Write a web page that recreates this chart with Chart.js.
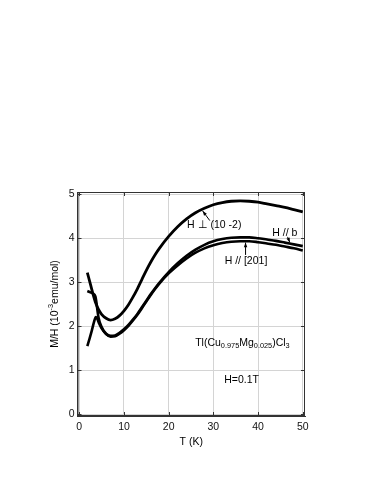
<!DOCTYPE html>
<html>
<head>
<meta charset="utf-8">
<script src="https://cdn.jsdelivr.net/npm/chart.js@4"></script>
<style>
  html, body { margin: 0; padding: 0; background: #fff; }
  #grafica { display: block; }
</style>
</head>
<body>
<canvas id="grafica" width="382" height="494"></canvas>
<script>
// datos (T en K, M/H en 10^-3 emu/mol)
const tempsPerp = [1.8, 2.5, 3.1, 3.7, 4.3, 5, 6, 7, 8, 9, 10, 11, 12, 13, 14, 15, 16, 17, 18, 20, 22, 24, 26, 28, 30, 32, 34, 36, 38, 40, 42, 44, 46, 48, 50];
const mhPerp = [3.22, 2.95, 2.72, 2.52, 2.38, 2.27, 2.18, 2.14, 2.17, 2.24, 2.35, 2.49, 2.66, 2.85, 3.06, 3.27, 3.46, 3.63, 3.78, 4.04, 4.26, 4.44, 4.58, 4.68, 4.76, 4.81, 4.84, 4.85, 4.84, 4.82, 4.78, 4.74, 4.70, 4.65, 4.60];

const tempsB = [1.8, 2.5, 3.1, 3.6, 4.3, 5, 6, 7, 8, 9, 10, 11, 12, 13, 14, 15, 16, 17, 18, 20, 22, 24, 26, 28, 30, 32, 34, 36, 38, 40, 42, 44, 46, 48, 50];
const mhB = [2.80, 2.77, 2.74, 2.68, 2.20, 1.98, 1.83, 1.78, 1.79, 1.85, 1.93, 2.03, 2.15, 2.28, 2.43, 2.58, 2.73, 2.87, 3.00, 3.23, 3.43, 3.60, 3.74, 3.85, 3.93, 3.98, 4.01, 4.02, 4.02, 4.00, 3.97, 3.94, 3.90, 3.86, 3.82];

const temps201 = [1.8, 2.3, 2.8, 3.3, 3.7, 4.0, 4.5, 5, 6, 7, 8, 9, 10, 11, 12, 13, 14, 15, 16, 17, 18, 20, 22, 24, 26, 28, 30, 32, 34, 36, 38, 40, 42, 44, 46, 48, 50];
const mh201 = [1.55, 1.72, 1.90, 2.10, 2.21, 2.17, 2.05, 1.95, 1.82, 1.76, 1.77, 1.83, 1.91, 2.01, 2.13, 2.26, 2.41, 2.56, 2.71, 2.85, 2.98, 3.20, 3.38, 3.54, 3.67, 3.77, 3.84, 3.89, 3.92, 3.93, 3.93, 3.91, 3.88, 3.85, 3.81, 3.77, 3.72];

const ticksT = [0, 10, 20, 30, 40, 50];
const ticksMH = [0, 1, 2, 3, 4, 5];

const FUENTE = '"Liberation Sans", Arial, sans-serif';

// etiquetas dentro de la grafica (posicion en unidades de datos)
const etiquetas = [
  { x: 30.2, y: 4.30, partes: [['H \u22A5 (10 -2)', 0]] },
  { x: 46.0, y: 4.12, partes: [['H // b', 0]] },
  { x: 37.3, y: 3.48, partes: [['H // [201]', 0]] },
  { x: 36.5, y: 1.62, partes: [['Tl(Cu', 0], ['0.975', 1], ['Mg', 0], ['0.025', 1], [')Cl', 0], ['3', 1]] },
  { x: 36.3, y: 0.78, partes: [['H=0.1T', 0]] }
];
const flechas = [
  { de: [29.2, 4.40], a: [27.6, 4.62] },
  { de: [46.6, 4.03], a: [47.1, 3.90] },
  { de: [37.2, 3.62], a: [37.2, 3.90] }
];

function serie(xs, ys) {
  return xs.map((t, i) => ({ x: t, y: ys[i] }));
}

function anchoPartes(ctx, partes, tam) {
  let w = 0;
  partes.forEach(([txt, tipo]) => {
    ctx.font = (tipo ? tam * 0.7 : tam) + 'px ' + FUENTE;
    w += ctx.measureText(txt).width;
  });
  return w;
}

function dibujarPartes(ctx, partes, x, y, tam) {
  let cx = x - anchoPartes(ctx, partes, tam) / 2;
  partes.forEach(([txt, tipo]) => {
    ctx.font = (tipo ? tam * 0.7 : tam) + 'px ' + FUENTE;
    let dy = 0;
    if (tipo === 1) dy = tam * 0.3;
    if (tipo === 2) dy = -tam * 0.4;
    ctx.fillText(txt, cx, y + dy);
    cx += ctx.measureText(txt).width;
  });
}

const extras = {
  id: 'extras',
  afterDraw(chart) {
    const ctx = chart.ctx;
    const a = chart.chartArea;
    const sx = chart.scales.x, sy = chart.scales.y;
    ctx.save();
    // marco
    ctx.strokeStyle = '#333';
    ctx.lineWidth = 1;
    ctx.strokeRect(a.left + 0.5, a.top + 0.5, a.right - a.left - 1, a.bottom - a.top - 1);
    // marcas hacia dentro
    ctx.beginPath();
    ticksT.forEach(v => {
      const px = Math.round(sx.getPixelForValue(v)) + 0.5;
      ctx.moveTo(px, a.bottom); ctx.lineTo(px, a.bottom - 4);
      ctx.moveTo(px, a.top); ctx.lineTo(px, a.top + 4);
    });
    ticksMH.forEach(v => {
      const py = Math.round(sy.getPixelForValue(v)) + 0.5;
      ctx.moveTo(a.left, py); ctx.lineTo(a.left + 4, py);
      ctx.moveTo(a.right, py); ctx.lineTo(a.right - 4, py);
    });
    ctx.stroke();

    // textos
    ctx.fillStyle = '#000';
    ctx.textBaseline = 'middle';
    ctx.textAlign = 'left';
    etiquetas.forEach(e => {
      dibujarPartes(ctx, e.partes, sx.getPixelForValue(e.x), sy.getPixelForValue(e.y), 10.5);
    });

    // flechas
    ctx.strokeStyle = '#000';
    ctx.fillStyle = '#000';
    flechas.forEach(f => {
      const x1 = sx.getPixelForValue(f.de[0]), y1 = sy.getPixelForValue(f.de[1]);
      const x2 = sx.getPixelForValue(f.a[0]), y2 = sy.getPixelForValue(f.a[1]);
      const ang = Math.atan2(y2 - y1, x2 - x1);
      ctx.beginPath();
      ctx.moveTo(x1, y1); ctx.lineTo(x2, y2);
      ctx.stroke();
      ctx.beginPath();
      ctx.moveTo(x2, y2);
      ctx.lineTo(x2 - 5 * Math.cos(ang - 0.35), y2 - 5 * Math.sin(ang - 0.35));
      ctx.lineTo(x2 - 5 * Math.cos(ang + 0.35), y2 - 5 * Math.sin(ang + 0.35));
      ctx.closePath();
      ctx.fill();
    });

    // titulo del eje y con superindice
    ctx.translate(55, (a.top + a.bottom) / 2);
    ctx.rotate(-Math.PI / 2);
    dibujarPartes(ctx, [['M/H (10', 0], ['-3', 2], ['emu/mol)', 0]], 0, 0, 10.5);
    ctx.restore();
  }
};

const estiloLinea = {
  showLine: true,
  borderColor: '#000',
  backgroundColor: '#000',
  pointRadius: 0,
  cubicInterpolationMode: 'monotone',
  fill: false
};

new Chart(document.getElementById('grafica').getContext('2d'), {
  type: 'scatter',
  data: {
    datasets: [
      Object.assign({ label: 'H \u22A5 (10 -2)', data: serie(tempsPerp, mhPerp), borderWidth: 2.8 }, estiloLinea),
      Object.assign({ label: 'H // b', data: serie(tempsB, mhB), borderWidth: 2.6 }, estiloLinea),
      Object.assign({ label: 'H // [201]', data: serie(temps201, mh201), borderWidth: 2.6 }, estiloLinea)
    ]
  },
  options: {
    responsive: false,
    animation: false,
    devicePixelRatio: 1,
    layout: { padding: { left: 0, top: 192, right: 77, bottom: 38 } },
    plugins: { legend: { display: false }, tooltip: { enabled: false } },
    scales: {
      x: {
        type: 'linear',
        min: -0.4,
        max: 50.5,
        afterBuildTicks: s => { s.ticks = ticksT.map(v => ({ value: v })); },
        afterFit: s => { s.height = 40; },
        grid: { color: '#d4d4d4', drawTicks: false },
        border: { color: '#333' },
        ticks: { color: '#111', padding: 5, font: { family: FUENTE, size: 10.5 } },
        title: { display: true, text: 'T (K)', color: '#000', padding: { top: 0, bottom: 8 }, font: { family: FUENTE, size: 10.5 } }
      },
      y: {
        type: 'linear',
        min: -0.04,
        max: 5.05,
        afterBuildTicks: s => { s.ticks = ticksMH.map(v => ({ value: v })); },
        afterFit: s => { s.width = 77.5; },
        grid: { color: '#d4d4d4', drawTicks: false },
        border: { color: '#333' },
        ticks: { color: '#111', padding: 3, font: { family: FUENTE, size: 10.5 } }
      }
    }
  },
  plugins: [extras]
});
</script>
</body>
</html>
